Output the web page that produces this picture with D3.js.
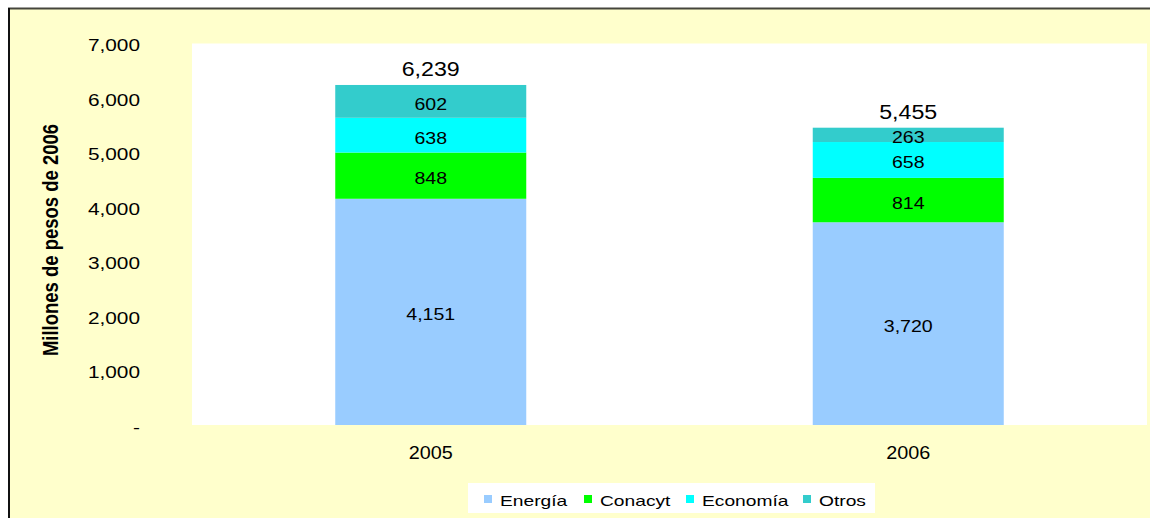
<!DOCTYPE html>
<html>
<head>
<meta charset="utf-8">
<script src="https://cdn.jsdelivr.net/npm/d3@7"></script>
<style>
  body { margin: 0; background: #fff; }
  svg text { font-family: "Liberation Sans", Arial, sans-serif; fill: #000; }
</style>
</head>
<body>
<div id="chart"></div>
<script>
var years = ["2005", "2006"];
var series = ["Energía", "Conacyt", "Economía", "Otros"];
var colors = ["#99CCFF", "#00FF00", "#00FFFF", "#33CCCC"];
var energia = [4151, 3720];
var conacyt = [848, 814];
var economia = [638, 658];
var otros = [602, 263];
var totals = [6239, 5455];
var yTicks = [0, 1000, 2000, 3000, 4000, 5000, 6000, 7000];

var W = 1150, H = 518;
var plot = {left: 192, right: 1147, top: 43.5, bottom: 425};

// the original text looks stretched sideways, so widen glyphs a bit
function stretch(sel, k) {
  sel.each(function() {
    var w = this.getComputedTextLength();
    d3.select(this)
        .attr("textLength", w * k)
        .attr("lengthAdjust", "spacingAndGlyphs");
  });
}

var svg = d3.select("#chart").append("svg")
    .attr("width", W)
    .attr("height", H);

// chart frame
svg.append("rect")
    .attr("x", 9).attr("y", 8)
    .attr("width", W).attr("height", H)
    .attr("fill", "#FFFFCC");
svg.append("line")
    .attr("x1", 8).attr("x2", W).attr("y1", 8.5).attr("y2", 8.5)
    .attr("stroke", "#45453c").attr("stroke-width", 2);
svg.append("line")
    .attr("x1", 9).attr("x2", 9).attr("y1", 8).attr("y2", H)
    .attr("stroke", "#111").attr("stroke-width", 2);

svg.append("rect")
    .attr("x", plot.left).attr("y", plot.top)
    .attr("width", plot.right - plot.left)
    .attr("height", plot.bottom - plot.top)
    .attr("fill", "#fff");

var x = d3.scaleBand()
    .domain(years)
    .range([plot.left, plot.right])
    .paddingInner(0.6)
    .paddingOuter(0.3);

var y = d3.scaleLinear()
    .domain([0, 7000])
    .range([plot.bottom, plot.top]);

// stack the series
var rows = years.map(function(yr, i) {
  return {year: yr, "Energía": energia[i], "Conacyt": conacyt[i], "Economía": economia[i], "Otros": otros[i]};
});
var stacked = d3.stack().keys(series)(rows);

var groups = svg.selectAll("g.layer")
    .data(stacked)
  .enter().append("g")
    .attr("class", "layer")
    .attr("fill", function(d, i) { return colors[i]; });

groups.selectAll("rect")
    .data(function(d) { return d; })
  .enter().append("rect")
    .attr("x", function(d) { return x(d.data.year); })
    .attr("width", x.bandwidth())
    .attr("y", function(d) { return y(d[1]); })
    .attr("height", function(d) { return y(d[0]) - y(d[1]); });

// segment labels
groups.selectAll("text")
    .data(function(d) { return d.map(function(p) { return {p: p, key: d.key}; }); })
  .enter().append("text")
    .attr("x", function(d) { return x(d.p.data.year) + x.bandwidth() / 2; })
    .attr("y", function(d) { return (y(d.p[0]) + y(d.p[1])) / 2; })
    .attr("dy", "0.5em")
    .attr("text-anchor", "middle")
    .style("font-size", "17px")
    .text(function(d) { return d3.format(",")(d.p.data[d.key]); })
    .call(stretch, 1.15);

// totals
svg.selectAll("text.total")
    .data(years)
  .enter().append("text")
    .attr("class", "total")
    .attr("x", function(d) { return x(d) + x.bandwidth() / 2; })
    .attr("y", function(d, i) { return y(totals[i]) - 8.5; })
    .attr("text-anchor", "middle")
    .style("font-size", "20px")
    .text(function(d, i) { return d3.format(",")(totals[i]); })
    .call(stretch, 1.16);

// y axis
var yAxis = d3.axisLeft(y)
    .tickValues(yTicks)
    .tickSize(0)
    .tickPadding(52)
    .tickFormat(function(d) { return d === 0 ? "-" : d3.format(",")(d); });

svg.append("g")
    .attr("class", "y axis")
    .attr("transform", "translate(" + plot.left + ",2)")
    .call(yAxis)
    .call(function(g) { g.select(".domain").remove(); })
    .selectAll("text")
    .style("font-size", "16px")
    .attr("fill", "#000")
    .call(stretch, 1.3);

// x axis
svg.append("g")
    .attr("class", "x axis")
    .attr("transform", "translate(0," + plot.bottom + ")")
    .call(d3.axisBottom(x).tickSize(0).tickPadding(21))
    .call(function(g) { g.select(".domain").remove(); })
    .selectAll("text")
    .style("font-size", "18px")
    .attr("fill", "#000")
    .call(stretch, 1.1);

svg.append("text")
    .attr("transform", "translate(58,240) scale(1.2,1) rotate(-90)")
    .attr("text-anchor", "middle")
    .style("font-size", "18.5px")
    .style("font-weight", "bold")
    .text("Millones de pesos  de  2006");

// legend
var legend = svg.append("g").attr("transform", "translate(468,483)");
legend.append("rect")
    .attr("width", 407).attr("height", 30)
    .attr("fill", "#fff");

var legendX = [16, 116, 218, 335];
var items = legend.selectAll("g.item")
    .data(series)
  .enter().append("g")
    .attr("class", "item")
    .attr("transform", function(d, i) { return "translate(" + legendX[i] + ",0)"; });

items.append("rect")
    .attr("y", 12).attr("width", 8).attr("height", 8)
    .attr("fill", function(d, i) { return colors[i]; });

items.append("text")
    .attr("x", 16).attr("y", 23)
    .style("font-size", "15px")
    .text(function(d) { return d; })
    .call(stretch, 1.28);
</script>
</body>
</html>
